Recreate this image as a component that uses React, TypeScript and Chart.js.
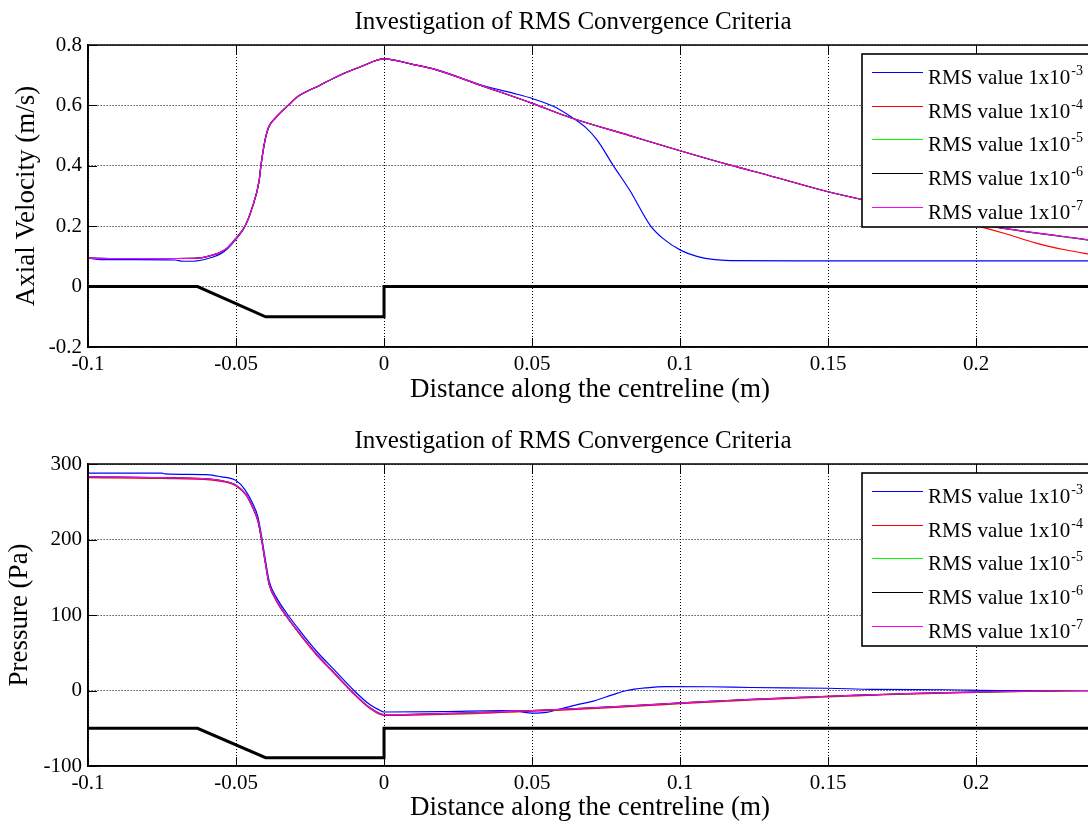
import { useEffect, useRef } from "react";
import { Chart, registerables } from "chart.js";

Chart.register(...registerables);

const FONT = '"Liberation Serif", "Times New Roman", Times, serif';

// ---------- Shared text ----------
const plotTitle = "Investigation of RMS Convergence Criteria";
const xAxisLabel = "Distance along the centreline (m)";
const velAxisLabel = "Axial Velocity (m/s)";
const presAxisLabel = "Pressure (Pa)";
const legendBase = "RMS value 1x10";
const legendExponents = ["-3", "-4", "-5", "-6", "-7"];
const seriesColors = ["#0000ff", "#ff0000", "#00ff00", "#000000", "#ff00ff"];

// ---------- Geometry outline (black thick line) ----------
const geomX = [-0.1, -0.063, -0.04, 0, 0, 0.24];
const geomVel = [0, 0, -0.1, -0.1, 0, 0];
const geomPres = [-50, -50, -89, -89, -50, -50];

// ---------- Axial velocity ----------
const velX = [-0.1, -0.09, -0.08, -0.07, -0.063, -0.058, -0.055, -0.0527, -0.05, -0.047,
  -0.0446, -0.0422, -0.0416, -0.0402, -0.0389, -0.0365, -0.0324, -0.029, -0.0216, -0.0149,
  -0.0081, 0, 0.01, 0.0179, 0.0334, 0.0503, 0.0628, 0.083, 0.1003, 0.117,
  0.13, 0.15, 0.17, 0.18, 0.19, 0.2, 0.21, 0.22, 0.23, 0.24];
const vel1e7 = [0.094, 0.093, 0.093, 0.093, 0.094, 0.104, 0.115, 0.13, 0.16, 0.2,
  0.26, 0.35, 0.4, 0.485, 0.53, 0.56, 0.6, 0.63, 0.667, 0.7,
  0.727, 0.754, 0.735, 0.717, 0.664, 0.606, 0.56, 0.5, 0.449, 0.402,
  0.368, 0.314, 0.27, 0.248, 0.228, 0.208, 0.192, 0.178, 0.165, 0.152];
const vel1e6 = [0.094, 0.093, 0.093, 0.093, 0.094, 0.104, 0.115, 0.13, 0.16, 0.2,
  0.26, 0.35, 0.4, 0.485, 0.53, 0.56, 0.6, 0.63, 0.667, 0.7,
  0.727, 0.754, 0.735, 0.717, 0.664, 0.606, 0.56, 0.5, 0.449, 0.402,
  0.368, 0.314, 0.27, 0.248, 0.228, 0.208, 0.192, 0.178, 0.165, 0.152];
const vel1e5 = [0.094, 0.093, 0.093, 0.093, 0.094, 0.104, 0.115, 0.13, 0.16, 0.2,
  0.26, 0.35, 0.4, 0.485, 0.53, 0.56, 0.6, 0.63, 0.667, 0.7,
  0.727, 0.754, 0.735, 0.717, 0.664, 0.606, 0.56, 0.5, 0.449, 0.402,
  0.368, 0.314, 0.27, 0.248, 0.228, 0.207, 0.191, 0.177, 0.164, 0.151];
const vel1e4 = [0.094, 0.093, 0.093, 0.093, 0.094, 0.104, 0.115, 0.13, 0.16, 0.2,
  0.26, 0.35, 0.4, 0.485, 0.53, 0.56, 0.6, 0.63, 0.667, 0.7,
  0.727, 0.754, 0.735, 0.717, 0.664, 0.606, 0.56, 0.5, 0.449, 0.402,
  0.368, 0.314, 0.27, 0.247, 0.226, 0.202, 0.175, 0.145, 0.122, 0.104];
const velBlueX = [-0.1, -0.094, -0.085, -0.0706, -0.068, -0.065, -0.061, -0.058, -0.055, -0.0527,
  -0.05, -0.047, -0.0446, -0.0422, -0.0416, -0.0402, -0.0389, -0.0365, -0.0324, -0.029,
  -0.0216, -0.0149, -0.0081, 0, 0.01, 0.0179, 0.0334, 0.045, 0.0503, 0.057,
  0.0628, 0.068, 0.072, 0.0775, 0.083, 0.0899, 0.0944, 0.1003, 0.1057, 0.111,
  0.117, 0.14, 0.18, 0.24];
const vel1e3 = [0.094, 0.089, 0.089, 0.088, 0.084, 0.084, 0.089, 0.097, 0.11, 0.127,
  0.157, 0.198, 0.258, 0.348, 0.398, 0.483, 0.529, 0.56, 0.6, 0.63,
  0.667, 0.7, 0.727, 0.754, 0.735, 0.718, 0.666, 0.637, 0.622, 0.598,
  0.565, 0.528, 0.485, 0.4, 0.319, 0.203, 0.158, 0.12, 0.1, 0.09,
  0.086, 0.085, 0.085, 0.085];

// ---------- Pressure ----------
const presX = [-0.1, -0.075, -0.0588, -0.055, -0.05, -0.0465, -0.0444, -0.0426, -0.0414, -0.0402,
  -0.0388, -0.0363, -0.033, -0.0284, -0.0228, -0.0172, -0.0104, -0.0047, 0, 0.01,
  0.02, 0.03, 0.04, 0.05, 0.06, 0.07, 0.08, 0.09, 0.1, 0.11,
  0.12, 0.13, 0.14, 0.15, 0.16, 0.17, 0.18, 0.19, 0.2, 0.21,
  0.22, 0.23, 0.24];
const pres1e7 = [283, 282, 280, 278, 272, 259, 243, 225, 201, 172,
  141, 119, 99, 75, 48, 25, -3, -23, -32, -31.5,
  -30.5, -29.5, -28, -26.6, -25, -23, -21, -18.8, -16.5, -14.3,
  -12.5, -10.8, -9.2, -7.6, -6.2, -5, -3.8, -2.8, -2, -1.3,
  -0.7, -0.3, 0];
const pres1e6 = [283, 282, 280, 278, 272, 259, 243, 225, 201, 172,
  141, 119, 99, 75, 48, 25, -3, -23, -32, -31.5,
  -30.5, -29.5, -28, -26.6, -25, -23, -21, -18.8, -16.5, -14.3,
  -12.5, -10.8, -9.2, -7.6, -6.2, -5, -3.8, -2.8, -2, -1.3,
  -0.7, -0.3, 0];
const pres1e5 = [283, 282, 280, 278, 272, 259, 243, 225, 201, 172,
  141, 119, 99, 75, 48, 25, -3, -23, -32, -31.6,
  -30.6, -29.6, -28.1, -26.7, -25.1, -23.1, -21.1, -18.9, -16.6, -14.4,
  -12.6, -10.9, -9.3, -7.7, -6.3, -5.1, -3.9, -2.9, -2.1, -1.4,
  -0.8, -0.3, 0];
const pres1e4 = [282, 281, 279, 277, 271, 258, 242, 224, 200, 171,
  140, 118, 98, 74, 47, 24, -4, -24, -33, -32.5,
  -31.5, -30.5, -29, -27.5, -26, -24, -22, -19.8, -17.5, -15.3,
  -13.4, -11.7, -10, -8.4, -7, -5.6, -4.4, -3.4, -2.5, -1.7,
  -1, -0.4, 0];
const presBlueX = [-0.1, -0.075, -0.074, -0.06, -0.055, -0.05, -0.047, -0.0444, -0.0426, -0.0414,
  -0.0402, -0.0388, -0.0363, -0.033, -0.0284, -0.0228, -0.0172, -0.0104, -0.0047, -0.001,
  0, 0.02, 0.04, 0.045, 0.05, 0.055, 0.06, 0.065, 0.0707, 0.0774,
  0.082, 0.0887, 0.095, 0.11, 0.124, 0.15, 0.165, 0.19, 0.208, 0.24];
const pres1e3 = [288, 288, 287, 286, 283, 278, 266, 248, 230, 205,
  176, 145, 123, 103, 79, 52, 29, 1, -19, -27,
  -28.5, -28, -26.6, -27.5, -30, -29, -24, -19, -14, -5.4,
  0, 3.6, 5.2, 5, 4, 3, 1.5, 1, 0, 0];

// ---------- Axis ranges ----------
const xMin = -0.1;
const xMax = 0.2378;
const xStep = 0.05;
const velMin = -0.2, velMax = 0.8, velStep = 0.2;
const presMin = -100, presMax = 300, presStep = 100;

const W = 1088;
const H = 414;

const pts = (xs: number[], ys: number[]) => xs.map((x, i) => ({ x, y: ys[i] }));
const fmt = (v: any) => String(Math.round(Number(v) * 1000) / 1000);

interface Spec {
  seriesX: number[][];
  seriesY: number[][];
  geomY: number[];
  yMin: number; yMax: number; yStep: number;
  ylabel: string;
  areaTop: number; areaBottom: number;
  titleBase: number; xlabelBase: number; ylabelBase: number;
}

function makeDecor(spec: Spec) {
  return {
    id: "decor",
    afterDatasetsDraw(chart: any) {
      const { ctx, chartArea: ca } = chart;
      const xs = chart.scales.x, ys = chart.scales.y;
      ctx.save();
      ctx.strokeStyle = "#000";
      ctx.lineWidth = 1;
      ctx.setLineDash([]);
      ctx.beginPath();
      xs.ticks.forEach((t: any) => {
        const px = Math.round(xs.getPixelForValue(t.value)) + 0.5;
        ctx.moveTo(px, ca.bottom); ctx.lineTo(px, ca.bottom - 9);
        ctx.moveTo(px, ca.top); ctx.lineTo(px, ca.top + 9);
      });
      ys.ticks.forEach((t: any) => {
        const py = Math.round(ys.getPixelForValue(t.value)) + 0.5;
        ctx.moveTo(ca.left, py); ctx.lineTo(ca.left + 9, py);
      });
      ctx.stroke();
      ctx.lineWidth = 1.6;
      ctx.beginPath();
      ctx.moveTo(ca.left, ca.top); ctx.lineTo(ca.right + 2, ca.top);
      ctx.moveTo(ca.left, ca.top); ctx.lineTo(ca.left, ca.bottom);
      ctx.moveTo(ca.left, ca.bottom); ctx.lineTo(ca.right + 2, ca.bottom);
      ctx.stroke();
      ctx.restore();
    },
    afterDraw(chart: any) {
      const { ctx, chartArea: ca } = chart;
      ctx.save();
      ctx.setLineDash([]);
      ctx.fillStyle = "#000";
      ctx.textBaseline = "alphabetic";
      // title
      ctx.font = `25px ${FONT}`;
      ctx.textAlign = "center";
      ctx.fillText(plotTitle, 573, spec.titleBase);
      // x label
      ctx.font = `27px ${FONT}`;
      ctx.fillText(xAxisLabel, 590, spec.xlabelBase);
      // y label
      ctx.save();
      ctx.translate(spec.ylabelBase, (ca.top + ca.bottom) / 2);
      ctx.rotate(-Math.PI / 2);
      ctx.fillText(spec.ylabel, 0, 0);
      ctx.restore();
      // legend
      const boxL = 862, boxT = ca.top + 9, boxH = 173;
      ctx.fillStyle = "#fff";
      ctx.fillRect(boxL, boxT, W - boxL + 10, boxH);
      ctx.strokeStyle = "#000";
      ctx.lineWidth = 1.6;
      ctx.strokeRect(boxL, boxT, W - boxL + 10, boxH);
      for (let i = 0; i < legendExponents.length; i++) {
        const ly = boxT + 18 + i * 33.7;
        ctx.setLineDash([]);
        ctx.strokeStyle = seriesColors[i];
        ctx.lineWidth = 1.2;
        ctx.beginPath();
        ctx.moveTo(872, Math.round(ly) + 0.5);
        ctx.lineTo(923, Math.round(ly) + 0.5);
        ctx.stroke();
        ctx.fillStyle = "#000";
        ctx.textAlign = "left";
        ctx.font = `21px ${FONT}`;
        ctx.fillText(legendBase, 928, ly + 12);
        const w = ctx.measureText(legendBase).width;
        ctx.font = `14px ${FONT}`;
        ctx.fillText(legendExponents[i], 928 + w + 1, ly + 3);
      }
      ctx.restore();
    },
  };
}

function makeConfig(spec: Spec): any {
  const datasets: any[] = [
    {
      label: "geometry",
      data: pts(geomX, spec.geomY),
      borderColor: "#000",
      borderWidth: 3,
      pointRadius: 0,
      order: 0,
    },
  ];
  const orders = [5, 4, 3, 2, 1];
  spec.seriesY.forEach((ys, i) => {
    datasets.push({
      label: legendBase + legendExponents[i],
      data: pts(spec.seriesX[i], ys),
      borderColor: seriesColors[i],
      borderWidth: 1.2,
      pointRadius: 0,
      cubicInterpolationMode: "monotone",
      order: orders[i],
    });
  });
  const tickFont = { family: FONT, size: 21 };
  return {
    type: "line",
    data: { datasets },
    plugins: [makeDecor(spec)],
    options: {
      responsive: false,
      maintainAspectRatio: false,
      animation: false,
      devicePixelRatio: 1,
      layout: { padding: { top: spec.areaTop, left: 0, right: 0, bottom: 0 } },
      plugins: { legend: { display: false }, tooltip: { enabled: false }, title: { display: false } },
      scales: {
        x: {
          type: "linear",
          min: xMin,
          max: xMax,
          afterFit: (s: any) => { s.height = H - spec.areaBottom; },
          ticks: {
            stepSize: xStep,
            includeBounds: false,
            autoSkip: false,
            maxRotation: 0,
            padding: 5,
            color: "#000",
            font: tickFont,
            callback: fmt,
          },
          grid: { color: "#000", lineWidth: 1, drawTicks: false, borderDash: [1, 2] },
          border: { display: true, color: "#000", width: 1.6, dash: [1, 2] },
        },
        y: {
          type: "linear",
          min: spec.yMin,
          max: spec.yMax,
          afterFit: (s: any) => { s.width = 88; },
          ticks: {
            stepSize: spec.yStep,
            autoSkip: false,
            padding: 6,
            color: "#000",
            font: tickFont,
            callback: fmt,
          },
          grid: { color: "#000", lineWidth: 1, drawTicks: false, borderDash: [1, 2] },
          border: { display: true, color: "#000", width: 1.6, dash: [1, 2] },
        },
      },
    },
  };
}

const topSpec: Spec = {
  seriesX: [velBlueX, velX, velX, velX, velX],
  seriesY: [vel1e3, vel1e4, vel1e5, vel1e6, vel1e7],
  geomY: geomVel,
  yMin: velMin, yMax: velMax, yStep: velStep,
  ylabel: velAxisLabel,
  areaTop: 45, areaBottom: 347,
  titleBase: 29, xlabelBase: 397, ylabelBase: 34,
};

const bottomSpec: Spec = {
  seriesX: [presBlueX, presX, presX, presX, presX],
  seriesY: [pres1e3, pres1e4, pres1e5, pres1e6, pres1e7],
  geomY: geomPres,
  yMin: presMin, yMax: presMax, yStep: presStep,
  ylabel: presAxisLabel,
  areaTop: 50, areaBottom: 352,
  titleBase: 34, xlabelBase: 401, ylabelBase: 27,
};

function Plot({ spec, top }: { spec: Spec; top: number }) {
  const ref = useRef<HTMLCanvasElement>(null);
  useEffect(() => {
    const chart = new Chart(ref.current as HTMLCanvasElement, makeConfig(spec));
    return () => chart.destroy();
  }, [spec]);
  return (
    <canvas
      ref={ref}
      width={W}
      height={H}
      style={{ position: "absolute", left: 0, top, width: W, height: H, display: "block" }}
    />
  );
}

export default function App() {
  return (
    <div
      style={{
        position: "fixed",
        left: 0,
        top: 0,
        width: W,
        height: 828,
        background: "#fff",
        overflow: "hidden",
      }}
    >
      <Plot spec={topSpec} top={0} />
      <Plot spec={bottomSpec} top={H} />
    </div>
  );
}
